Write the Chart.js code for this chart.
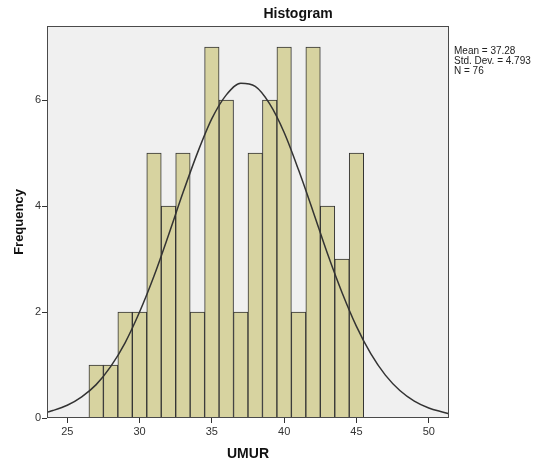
<!DOCTYPE html>
<html>
<head>
<meta charset="utf-8">
<script src="https://cdn.jsdelivr.net/npm/chart.js@4.4.1/dist/chart.umd.min.js"></script>
<style>
  html, body { margin: 0; padding: 0; background: #fff; }
  #wrap { width: 539px; height: 468px; position: relative; }
</style>
</head>
<body>
<div id="wrap"><canvas id="hist"></canvas></div>
<script>
// --- DATA ---
const ages = [27, 28, 29, 30, 31, 32, 33, 34, 35, 36, 37, 38, 39, 40, 41, 42, 43, 44, 45];
const counts = [1, 1, 2, 2, 5, 4, 5, 2, 7, 6, 2, 5, 6, 7, 2, 7, 4, 3, 5];

// normal curve
const curveX = [23.6, 24, 25, 26, 27, 28, 29, 30, 31, 32, 33, 34, 35, 36, 37, 38, 39, 40, 41, 42, 43, 44, 45, 46, 47, 48, 49, 50, 51, 51.4];
const curveY = [0.11, 0.14, 0.24, 0.40, 0.63, 0.97, 1.42, 2.00, 2.68, 3.45, 4.25, 5.00, 5.65, 6.10, 6.32, 6.26, 5.93, 5.39, 4.68, 3.90, 3.10, 2.37, 1.73, 1.21, 0.81, 0.52, 0.32, 0.19, 0.11, 0.08];

const xTicks = [25, 30, 35, 40, 45, 50];
const yTicks = [0, 2, 4, 6];
const statsLines = ['Mean = 37.28', 'Std. Dev. = 4.793', 'N = 76'];

const FONT = "'Liberation Sans', Arial, sans-serif";

// --- PLOT FRAME: grey background, box border, title and stats ---
const framePlugin = {
    id: 'frame',
    beforeDatasetsDraw(chart) {
        const { ctx, chartArea: a } = chart;
        ctx.save();
        ctx.fillStyle = '#f0f0f0';
        ctx.fillRect(a.left, a.top, a.right - a.left, a.bottom - a.top);
        ctx.restore();
    },
    afterDraw(chart) {
        const { ctx, chartArea: a } = chart;
        ctx.save();
        ctx.strokeStyle = '#4a4a4a';
        ctx.lineWidth = 1;
        ctx.strokeRect(a.left + 0.5, a.top + 0.5, a.right - a.left - 1, a.bottom - a.top - 1);

        ctx.fillStyle = '#111';
        ctx.font = `bold 14px ${FONT}`;
        ctx.textAlign = 'center';
        ctx.textBaseline = 'middle';
        ctx.fillText('Histogram', 298, 14);

        ctx.font = `10px ${FONT}`;
        ctx.textAlign = 'left';
        ctx.fillStyle = '#222';
        statsLines.forEach((t, i) => ctx.fillText(t, a.right + 5, 51 + i * 10));
        ctx.restore();
    }
};

new Chart(document.getElementById('hist'), {
    type: 'bar',
    data: {
        datasets: [
            {
                type: 'line',
                data: curveX.map((x, i) => ({ x: x, y: curveY[i] })),
                borderColor: '#333',
                borderWidth: 1.5,
                pointRadius: 0,
                cubicInterpolationMode: 'monotone',
                order: 0
            },
            {
                type: 'bar',
                data: ages.map((a, i) => ({ x: a, y: counts[i] })),
                backgroundColor: '#d7d3a0',
                borderColor: '#333',
                borderWidth: 1,
                barPercentage: 1,
                categoryPercentage: 1,
                order: 1
            }
        ]
    },
    plugins: [framePlugin],
    options: {
        responsive: true,
        maintainAspectRatio: false,
        animation: false,
        layout: { padding: { top: 26, right: 90, left: 0, bottom: 0 } },
        plugins: {
            legend: { display: false },
            tooltip: { enabled: false }
        },
        scales: {
            x: {
                type: 'linear',
                min: 23.6,
                max: 51.4,
                offset: false,
                afterBuildTicks: s => { s.ticks = xTicks.map(v => ({ value: v })); },
                afterFit: s => { s.height = 50; },
                grid: { drawOnChartArea: false, offset: false, color: '#333', tickLength: 5 },
                border: { display: false },
                ticks: { color: '#333', font: { family: FONT, size: 11 }, padding: 2, maxRotation: 0 },
                title: { display: true, text: 'UMUR', color: '#111', font: { family: FONT, size: 14, weight: 'bold' }, padding: { top: 0, bottom: 5 } }
            },
            y: {
                min: 0,
                max: 7.4,
                afterBuildTicks: s => { s.ticks = yTicks.map(v => ({ value: v })); },
                afterFit: s => { s.width = 47; },
                grid: { drawOnChartArea: false, color: '#333', tickLength: 5 },
                border: { display: false },
                ticks: { color: '#333', font: { family: FONT, size: 11 }, padding: 1 },
                title: { display: true, text: 'Frequency', color: '#111', font: { family: FONT, size: 13, weight: 'bold' }, padding: { top: 12, bottom: 0 } }
            }
        }
    }
});
</script>
</body>
</html>
